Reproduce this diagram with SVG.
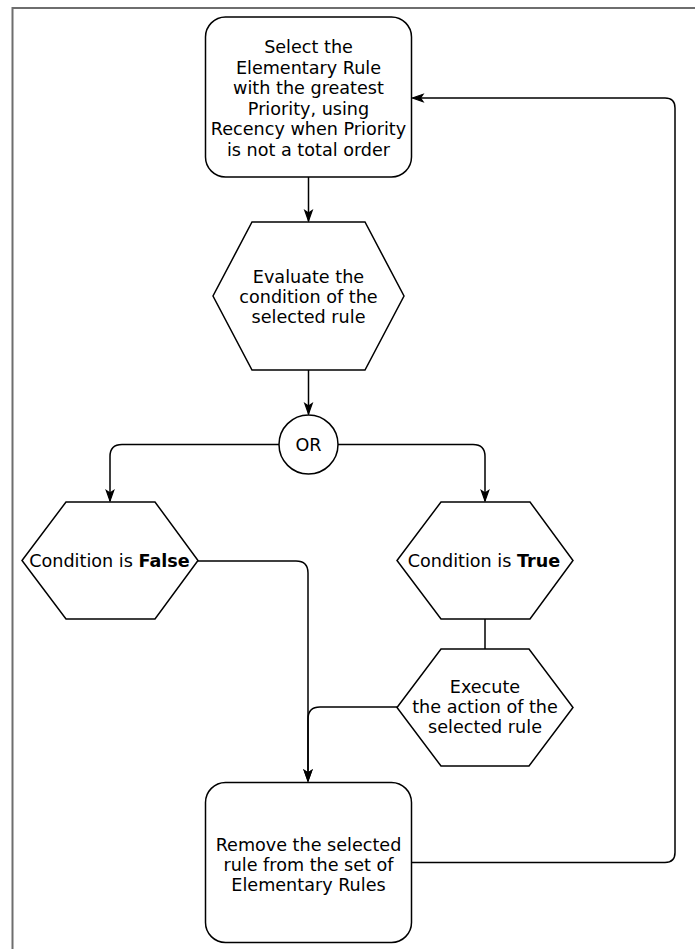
<svg xmlns="http://www.w3.org/2000/svg" width="695" height="949" viewBox="0 0 695 949">
  <style>
    .shape { fill: #ffffff; stroke: #000000; stroke-width: 1.5; }
    .conn { fill: none; stroke: #000000; stroke-width: 1.5; }
    .lbl { font-family: "DejaVu Sans", Verdana, sans-serif; font-size: 17.6px; fill: #000000; text-anchor: middle; }
    .b { font-weight: bold; }
  </style>
  <defs>
    <marker id="arrow" viewBox="0 0 12 9" refX="11" refY="4.5" markerWidth="12" markerHeight="9" markerUnits="userSpaceOnUse" orient="auto" overflow="visible">
      <path d="M0.5,0.8 L11,4.5 L0.5,8.2 L3,4.5 z" fill="#000000" stroke="#000000" stroke-width="1.2" stroke-linejoin="miter"/>
    </marker>
  </defs>
  <rect width="695" height="949" fill="#ffffff"/>
  <g id="frame">
    <path d="M12.5,949 V8 H695" fill="none" stroke="#6e6e6e" stroke-width="2"/>
  </g>
  <g id="connectors">
    <path class="conn" d="M308.5,177 V221" marker-end="url(#arrow)"/>
    <path class="conn" d="M308.5,370 V414" marker-end="url(#arrow)"/>
    <path class="conn" d="M279,444.5 H122 Q110,444.5 110,456.5 V501" marker-end="url(#arrow)"/>
    <path class="conn" d="M338,444.5 H473 Q485,444.5 485,456.5 V501" marker-end="url(#arrow)"/>
    <path class="conn" d="M198,561 H296 Q308,561 308,573 V781" marker-end="url(#arrow)"/>
    <path class="conn" d="M397,707 H320 Q308,707 308,719 V781" marker-end="url(#arrow)"/>
    <path class="conn" d="M485,619 V649"/>
    <path class="conn" d="M411.5,862.5 H665 Q675,862.5 675,852.5 V108 Q675,98 665,98 H412.5" marker-end="url(#arrow)"/>
  </g>
  <g id="select">
    <rect class="shape" x="205.5" y="17" width="206" height="160" rx="20" ry="20"/>
    <text class="lbl" x="308.5" y="53.3">Select the</text>
    <text class="lbl" x="308.5" y="73.8">Elementary Rule</text>
    <text class="lbl" x="308.5" y="94.3">with the greatest</text>
    <text class="lbl" x="308.5" y="114.8">Priority, using</text>
    <text class="lbl" x="308.5" y="135.3">Recency when Priority</text>
    <text class="lbl" x="308.5" y="155.8">is not a total order</text>
  </g>
  <g id="evaluate">
    <polygon class="shape" points="252,222 365,222 404,296 365,370 252,370 213,296"/>
    <text class="lbl" x="308.5" y="282.7">Evaluate the</text>
    <text class="lbl" x="308.5" y="302.9">condition of the</text>
    <text class="lbl" x="308.5" y="323.1">selected rule</text>
  </g>
  <g id="or">
    <circle class="shape" cx="308.5" cy="444.5" r="29.5"/>
    <text class="lbl" x="308.5" y="450.7">OR</text>
  </g>
  <g id="false">
    <polygon class="shape" points="66,502 155,502 198,560.5 155,619 66,619 22,560.5"/>
    <text class="lbl" x="109.5" y="567">Condition is <tspan class="b">False</tspan></text>
  </g>
  <g id="true">
    <polygon class="shape" points="441,502 530,502 573,560.5 530,619 441,619 397,560.5"/>
    <text class="lbl" x="484" y="567">Condition is <tspan class="b">True</tspan></text>
  </g>
  <g id="execute">
    <polygon class="shape" points="441,649 529,649 573,707.5 529,766 441,766 397,707.5"/>
    <text class="lbl" x="485" y="693">Execute</text>
    <text class="lbl" x="485" y="713.2">the action of the</text>
    <text class="lbl" x="485" y="733.4">selected rule</text>
  </g>
  <g id="remove">
    <rect class="shape" x="205.5" y="782.5" width="206" height="160" rx="20" ry="20"/>
    <text class="lbl" x="308.5" y="850.7">Remove the selected</text>
    <text class="lbl" x="308.5" y="870.9">rule from the set of</text>
    <text class="lbl" x="308.5" y="891.1">Elementary Rules</text>
  </g>
</svg>
